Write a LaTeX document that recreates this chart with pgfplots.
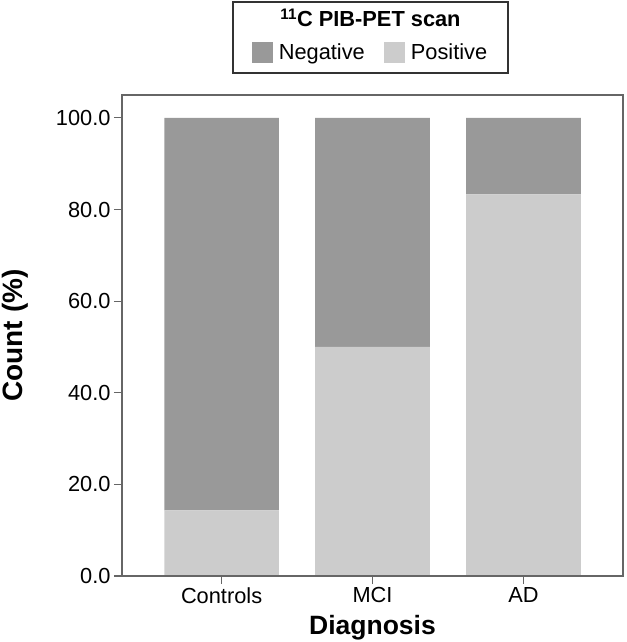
\documentclass[border=0pt]{standalone}
\usepackage{fontspec}
\setmainfont{Liberation Sans}
\usepackage{pgfplots}
\pgfplotsset{compat=1.18}
\definecolor{negc}{HTML}{999999}
\definecolor{posc}{HTML}{CCCCCC}
\definecolor{axc}{HTML}{666666}
\begin{document}
\begin{tikzpicture}
\useasboundingbox (-122pt,-66pt) rectangle (504pt,576pt);
\begin{axis}[
  at={(0pt,0pt)}, anchor=south west,
  scale only axis, width=501pt, height=481pt,
  xmin=-0.66, xmax=2.66, ymin=0, ymax=105,
  ybar stacked, bar width=0.76,
  xtick={0,1,2}, xticklabels={Controls,MCI,AD},
  ytick={0,20,40,60,80,100},
  xtick pos=bottom, ytick pos=left,
  tick align=outside, major tick length=8pt,
  tick style={axc, line width=1.2pt},
  axis line style={axc, line width=1.3pt},
  axis on top,
  /pgf/number format/fixed, /pgf/number format/fixed zerofill,
  /pgf/number format/precision=1, /pgf/number format/assume math mode=true,
  tick label style={font=\fontsize{21.8}{24}\selectfont, black},
  xlabel={Diagnosis}, ylabel={Count (\%)},
  xlabel style={font=\bfseries\fontsize{26.5}{30}\selectfont, at={(axis description cs:0.5,-0.108)}, anchor=center},
  ylabel style={font=\bfseries\fontsize{28}{30}\selectfont, at={(axis description cs:-0.2136,0.5)}, anchor=center},
  clip=false,
  legend style={at={(axis description cs:0.496,1.089)}, anchor=center, draw=none, fill=none,
    legend columns=2, font=\fontsize{21.8}{24}\selectfont,
    /tikz/every odd column/.append style={column sep=4pt},
    /tikz/every even column/.append style={column sep=17pt}},
  legend image code/.code={\fill[#1] (0pt,-10.5pt) rectangle (21pt,10.5pt);},
  reverse legend,
]
\addplot[fill=posc, draw=none] coordinates {(0,14.3) (1,50.0) (2,83.3)};
\addlegendentry{Positive}
\addplot[fill=negc, draw=none] coordinates {(0,85.7) (1,50.0) (2,16.7)};
\addlegendentry{Negative}
\node[font=\bfseries\fontsize{21.8}{24}\selectfont] at (axis description cs:0.496,1.16) {\textsuperscript{11}C PIB-PET scan};
\draw[line width=1.2pt, black!80] (axis description cs:0.2216,1.0457) rectangle (axis description cs:0.7705,1.1933);
\end{axis}
\end{tikzpicture}
\end{document}
